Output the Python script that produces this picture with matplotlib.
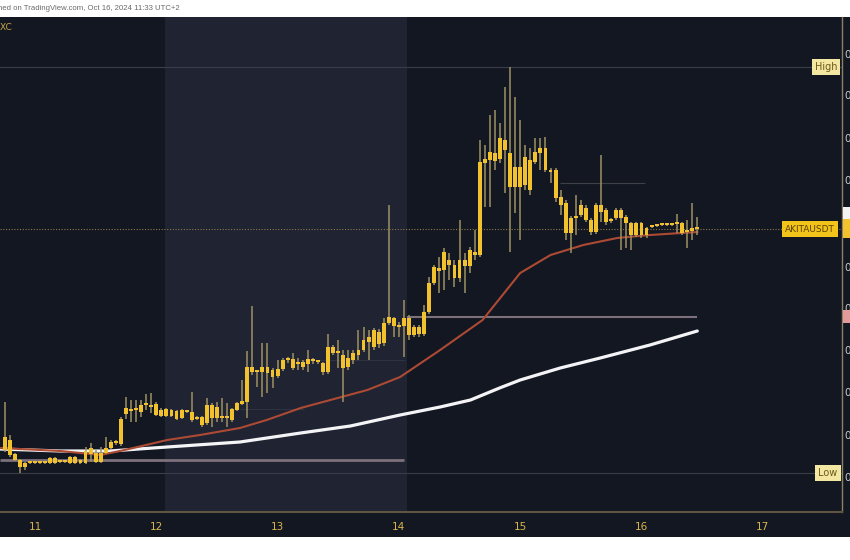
import numpy as np
import matplotlib.pyplot as plt
from matplotlib.patches import Rectangle

W, H = 850, 560

# AKITA/USDT hourly candles (chart price units), first candle = 18:00 on the 10th
first_day = 10.75
opens = [150, 160, 146, 140, 133, 137, 137, 138, 137, 137, 142, 138, 138, 137, 143, 137,
         137, 146, 147, 138, 147, 152, 157, 156, 186, 191, 190, 188, 195, 195, 196, 190,
         184, 190, 189, 182, 188, 188, 181, 183, 177, 195, 182, 182, 183, 180, 190, 196,
         198, 233, 228, 228, 233, 230, 224, 231, 240, 241, 236, 233, 236, 241, 238, 237,
         228, 253, 247, 245, 233, 240, 245, 250, 258, 253, 268, 257, 277, 282, 273, 274,
         282, 265, 273, 266, 288, 317, 332, 330, 340, 335, 322, 340, 334, 348, 345, 437,
         440, 447, 441, 460, 447, 413, 433, 415, 440, 438, 447, 452, 430, 430, 403, 397,
         367, 382, 385, 392, 380, 368, 395, 390, 379, 382, 390, 383, 377, 365, 377, 365,
         373, 374, 375, 375, 375, 376, 377, 368, 369, 372]
highs = [198, 165, 147, 141, 138, 138, 139, 139, 139, 143, 143, 139, 140, 144, 144, 141,
         153, 157, 150, 153, 163, 160, 160, 183, 203, 200, 200, 200, 206, 207, 198, 192,
         192, 191, 190, 191, 190, 208, 184, 184, 202, 197, 198, 202, 197, 192, 198, 220,
         249, 294, 230, 257, 257, 232, 240, 242, 243, 247, 242, 240, 250, 242, 240, 238,
         266, 255, 260, 250, 250, 250, 270, 273, 270, 272, 271, 282, 395, 283, 278, 300,
         285, 275, 275, 295, 323, 335, 343, 352, 347, 340, 380, 347, 353, 370, 460, 455,
         485, 490, 477, 513, 533, 503, 480, 455, 452, 462, 462, 463, 432, 432, 410, 400,
         384, 405, 400, 395, 382, 397, 445, 392, 382, 392, 392, 385, 378, 378, 378, 373,
         375, 376, 376, 377, 377, 386, 378, 380, 397, 383]
lows = [148, 143, 139, 127, 130, 136, 136, 136, 136, 136, 136, 137, 137, 136, 136, 136,
        136, 138, 137, 137, 146, 151, 155, 154, 181, 178, 178, 183, 190, 187, 184, 183,
        183, 183, 180, 181, 187, 178, 180, 173, 175, 173, 178, 178, 173, 178, 189, 195,
        182, 225, 213, 203, 207, 212, 222, 229, 237, 230, 230, 230, 228, 236, 236, 225,
        226, 245, 232, 198, 230, 236, 240, 248, 240, 250, 252, 254, 275, 263, 263, 243,
        260, 263, 263, 264, 286, 315, 307, 310, 320, 313, 318, 307, 327, 340, 343, 393,
        393, 430, 437, 407, 348, 387, 360, 410, 405, 436, 430, 428, 417, 398, 385, 360,
        347, 365, 383, 378, 365, 366, 378, 375, 377, 380, 350, 352, 350, 363, 362, 362,
        372, 373, 374, 374, 374, 367, 365, 352, 360, 365]
closes = [163, 145, 140, 133, 137, 138, 138, 137, 138, 142, 137, 139, 139, 143, 137, 140,
          149, 152, 138, 147, 152, 158, 158, 181, 192, 189, 191, 195, 197, 193, 185, 184,
          191, 184, 181, 190, 189, 180, 183, 175, 195, 182, 193, 183, 182, 191, 197, 199,
          233, 228, 229, 233, 227, 223, 231, 240, 241, 232, 237, 238, 241, 239, 239, 228,
          253, 247, 248, 232, 242, 247, 250, 260, 263, 270, 256, 277, 283, 274, 274, 282,
          265, 273, 266, 288, 317, 333, 329, 348, 335, 322, 340, 334, 350, 345, 438, 441,
          448, 439, 462, 450, 413, 433, 413, 443, 410, 448, 452, 430, 428, 402, 395, 367,
          382, 383, 395, 380, 368, 395, 388, 378, 380, 390, 382, 377, 365, 377, 365, 372,
          374, 375, 376, 376, 376, 377, 367, 369, 372, 371]

# moving averages
ma_slow_x = [10.71, 11.21, 11.62, 12.09, 12.69, 13.19, 13.6, 14.01, 14.34, 14.59, 14.83,
             15.0, 15.33, 15.66, 16.07, 16.46]
ma_slow_y = [151, 149, 149, 153, 158, 167, 174, 185, 193, 200, 212, 220, 232, 242, 255, 269]
ma_fast_x = [10.71, 11.21, 11.54, 11.7, 11.81, 12.09, 12.36, 12.69, 12.91, 13.19, 13.74,
             14.01, 14.34, 14.69, 15.0, 15.25, 15.52, 15.8, 16.07, 16.46]
ma_fast_y = [152, 149, 145, 149, 152, 160, 165, 172, 180, 192, 210, 223, 250, 280, 327,
             345, 355, 362, 365, 368]

day_ticks = [11, 12, 13, 14, 15, 16, 17]
price_ticks = [123, 165, 208, 250, 292, 333, 378, 420, 462, 505, 546]

high_level = 533
low_level = 127
last_price = 371

bg = '#131722'
gold = '#f2c12e'
wick = '#9d9162'

fig = plt.figure(figsize=(W / 100, H / 100), dpi=100)
fig.patch.set_facecolor('white')
# dark chart frame (between the white strips)
fig.patches.append(Rectangle((0, 23 / H), 1, 520 / H, transform=fig.transFigure,
                             facecolor=bg, edgecolor='none', zorder=-5))

ax = fig.add_axes([0, 48 / H, 842 / W, 495 / H])
ax.set_zorder(1)
ax.set_facecolor(bg)
ax.set_xlim(10.7115, 17.653)
ax.set_ylim(88, 583)

# session highlight
ax.axvspan(12.072, 14.067, color='#1f2332', zorder=0, lw=0)

# horizontal levels
ax.axhline(high_level, color='#3a3d48', lw=0.8, zorder=1)
ax.axhline(low_level, color='#3a3d48', lw=0.8, zorder=1)
ax.hlines(140, 10.7115, 14.04, color='#7d717c', lw=2, zorder=1)
ax.hlines(283, 14.067, 16.458, color='#7d717c', lw=1.5, zorder=1)
ax.hlines(417, 15.33, 16.03, color='#3f3f46', lw=0.8, zorder=1)
ax.hlines(240, 13.185, 14.05, color='#2f3240', lw=0.8, zorder=1)
ax.hlines(191, 12.69, 13.22, color='#2f3240', lw=0.8, zorder=1)
ax.axhline(last_price, color='#8a7a48', lw=0.8, ls=(0, (1, 1.5)), zorder=1)

# moving averages
ax.plot(ma_slow_x, ma_slow_y, color='#f4f4f6', lw=2.3, zorder=2, solid_capstyle='round')
ax.plot(ma_fast_x, ma_fast_y, color='#ad4a33', lw=1.5, zorder=3)

# candles
o = np.array(opens)
c = np.array(closes)
t = first_day + np.arange(len(o)) / 24
ax.vlines(t, lows, highs, color=wick, lw=1.1, zorder=4)
body_lo = np.minimum(o, c)
body_h = np.maximum(np.abs(c - o), 1.8)
ax.bar(t, body_h, bottom=body_lo, width=0.032, color=gold, edgecolor='none', zorder=5)

# axes styling
for s in ['top', 'left']:
    ax.spines[s].set_visible(False)
ax.spines['bottom'].set_color('#5e5640')
ax.spines['bottom'].set_linewidth(1.5)
ax.spines['right'].set_color('#8b8264')
ax.spines['right'].set_linewidth(1.0)
ax.set_xticks(day_ticks)
ax.set_xticklabels([str(d) for d in day_ticks])
ax.tick_params(axis='x', length=0, pad=7, labelsize=7.5, labelcolor='#d9b64c')
ax.yaxis.tick_right()
ax.set_yticks(price_ticks)
ax.set_yticklabels(['0.0000000' + str(p) for p in price_ticks])
ax.tick_params(axis='y', length=0, pad=2, labelsize=7.5, labelcolor='#c9cbd2')

# price-axis markers
fig.patches.append(Rectangle((843 / W, 1 - 219 / H), 7 / W, 12 / H, transform=fig.transFigure,
                             facecolor='#f5f5f5', edgecolor='none', zorder=6))
fig.patches.append(Rectangle((843 / W, 1 - 238 / H), 7 / W, 19 / H, transform=fig.transFigure,
                             facecolor='#f2c12e', edgecolor='none', zorder=6))
fig.patches.append(Rectangle((843 / W, 1 - 323 / H), 7 / W, 13 / H, transform=fig.transFigure,
                             facecolor='#e49a9a', edgecolor='none', zorder=6))

fig.text(826 / W, 1 - 67 / H, 'High', ha='center', va='center', fontsize=7, color='#6b5a1c',
         zorder=7, bbox=dict(boxstyle='square,pad=0.3', fc='#f4e7a1', ec='none'))
fig.text(828 / W, 1 - 473 / H, 'Low', ha='center', va='center', fontsize=7, color='#6b5a1c',
         zorder=7, bbox=dict(boxstyle='square,pad=0.3', fc='#f4e7a1', ec='none'))
fig.text(810 / W, 1 - 229 / H, 'AKITAUSDT', ha='center', va='center', fontsize=6.5,
         color='#5c4300', zorder=7,
         bbox=dict(boxstyle='square,pad=0.35', fc='#f2c419', ec='none'))

# header bits
fig.text(180 / W, 1 - 8 / H, 'Published on TradingView.com, Oct 16, 2024 11:33 UTC+2',
         ha='right', va='center', fontsize=5.6, color='#6a6a6a', family='Liberation Sans')
fig.text(12 / W, 1 - 27 / H, 'AKITAUSDT · 1h · MEXC', ha='right', va='center',
         fontsize=6.5, color='#c9a646')

plt.savefig('out.png', dpi=100)
